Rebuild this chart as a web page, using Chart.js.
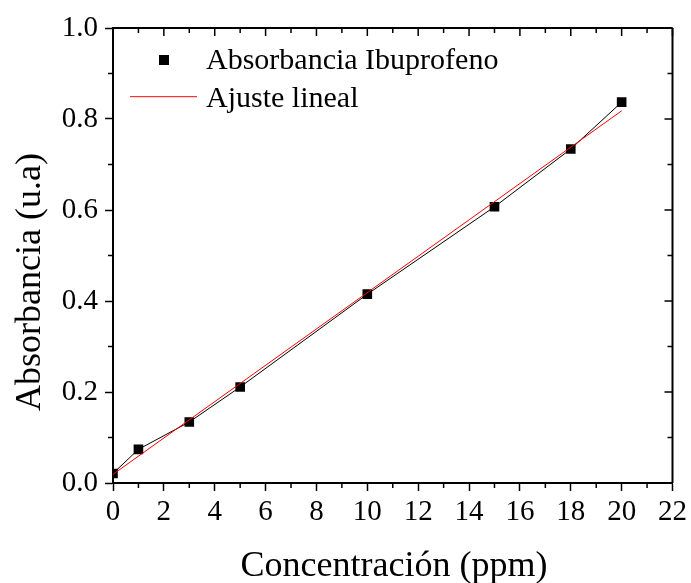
<!DOCTYPE html>
<html>
<head>
<meta charset="utf-8">
<script src="https://cdn.jsdelivr.net/npm/chart.js@4.4.0/dist/chart.umd.min.js"></script>
<style>
  html, body { margin: 0; padding: 0; background: #fff; }
  #wrap { width: 691px; height: 583px; }
</style>
</head>
<body>
<div id="wrap"><canvas id="chart" width="691" height="583"></canvas></div>
<script>
// data
var concentracion = [0, 1, 3, 5, 10, 15, 18, 20];
var absorbancia = [0.021, 0.074, 0.134, 0.211, 0.415, 0.607, 0.734, 0.837];
var ajusteX = [0, 20];
var ajusteY = [0.019, 0.818];
var xTicks = [0, 2, 4, 6, 8, 10, 12, 14, 16, 18, 20, 22];
var yTicks = [0, 0.2, 0.4, 0.6, 0.8, 1.0];

var serif = "'Liberation Serif', 'Times New Roman', serif";

var puntos = concentracion.map(function (x, i) { return { x: x, y: absorbancia[i] }; });
var ajuste = ajusteX.map(function (x, i) { return { x: x, y: ajusteY[i] }; });

// box, minor ticks, inner ticks on top / right, legend and axis titles
var framePlugin = {
    id: 'frame',
    afterDraw: function (chart) {
        var ctx = chart.ctx, a = chart.chartArea;
        var xs = chart.scales.x, ys = chart.scales.y;
        ctx.save();
        ctx.strokeStyle = '#000';
        ctx.lineWidth = 2;
        ctx.beginPath();
        ctx.moveTo(a.left, a.top); ctx.lineTo(a.right, a.top);
        ctx.moveTo(a.right, a.top); ctx.lineTo(a.right, a.bottom);
        ctx.stroke();
        ctx.lineWidth = 1.5;
        ctx.beginPath();
        for (var v = 0; v <= 22; v++) {
            var px = xs.getPixelForValue(v);
            var major = v % 2 === 0;
            var len = major ? 8 : 5;
            if (!major) { ctx.moveTo(px, a.bottom); ctx.lineTo(px, a.bottom + len); }
            ctx.moveTo(px, a.top); ctx.lineTo(px, a.top + len);
        }
        for (var k = 0; k <= 10; k++) {
            var py = ys.getPixelForValue(k / 10);
            var maj = k % 2 === 0;
            var l = maj ? 8 : 5;
            if (!maj) { ctx.moveTo(a.left, py); ctx.lineTo(a.left - l, py); }
            ctx.moveTo(a.right, py); ctx.lineTo(a.right - l, py);
        }
        ctx.stroke();

        // legend inside the plot
        ctx.fillStyle = '#000';
        ctx.fillRect(159, 55, 10, 10);
        ctx.fillStyle = '#ff3030';
        ctx.fillRect(130, 96, 67, 1.2);
        ctx.fillStyle = '#000';
        ctx.font = '30px ' + serif;
        ctx.textBaseline = 'alphabetic';
        ctx.fillText('Absorbancia Ibuprofeno', 206, 69);
        ctx.fillText('Ajuste lineal', 206, 107);

        // axis titles
        ctx.font = '36px ' + serif;
        ctx.textAlign = 'center';
        ctx.fillText('Concentración (ppm)', 394, 576);
        ctx.translate(40, 282);
        ctx.rotate(-Math.PI / 2);
        ctx.fillText('Absorbancia (u.a)', 0, 0);
        ctx.restore();
    }
};

new Chart(document.getElementById('chart').getContext('2d'), {
    type: 'scatter',
    data: {
        datasets: [{
            label: 'Absorbancia Ibuprofeno',
            data: puntos,
            showLine: true,
            clip: 0,
            borderColor: '#000',
            borderWidth: 1,
            pointStyle: 'rect',
            pointRadius: 6.8,
            pointBorderWidth: 0,
            pointBackgroundColor: '#000',
            order: 1
        }, {
            label: 'Ajuste lineal',
            data: ajuste,
            showLine: true,
            borderColor: '#ff0000',
            borderWidth: 1,
            pointRadius: 0,
            order: 0
        }]
    },
    options: {
        responsive: false,
        animation: false,
        layout: { padding: { top: 28, right: 15, left: 0, bottom: 0 } },
        plugins: { legend: { display: false }, tooltip: { enabled: false } },
        scales: {
            x: {
                type: 'linear',
                min: 0, max: 22,
                afterBuildTicks: function (s) { s.ticks = xTicks.map(function (v) { return { value: v }; }); },
                afterFit: function (s) { s.height = 100; },
                ticks: { color: '#000', font: { family: serif, size: 29 }, padding: 4, maxRotation: 0 },
                grid: { drawOnChartArea: false, tickLength: 8, tickColor: '#000', tickWidth: 1.5 },
                border: { color: '#000', width: 2 }
            },
            y: {
                min: 0, max: 1,
                afterBuildTicks: function (s) { s.ticks = yTicks.map(function (v) { return { value: v }; }); },
                afterFit: function (s) { s.width = 113; },
                ticks: { color: '#000', font: { family: serif, size: 29 }, padding: 7, callback: function (v) { return v.toFixed(1); } },
                grid: { drawOnChartArea: false, tickLength: 8, tickColor: '#000', tickWidth: 1.5 },
                border: { color: '#000', width: 2 }
            }
        }
    },
    plugins: [framePlugin]
});
</script>
</body>
</html>
